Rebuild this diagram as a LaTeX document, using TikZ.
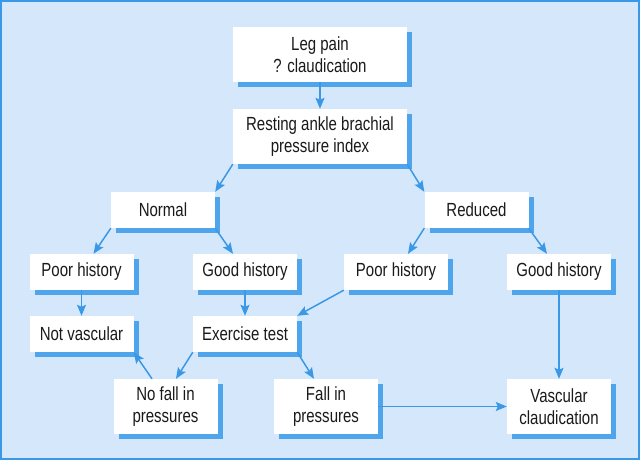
\documentclass[tikz,border=0pt]{standalone}
\usepackage{fontspec}
\setmainfont[FakeStretch=0.79]{Liberation Sans}
\usetikzlibrary{arrows.meta,shadows}
\definecolor{bgblue}{HTML}{D5E8FB}
\definecolor{lineblue}{HTML}{3A98E6}
\definecolor{shadowblue}{HTML}{4FA5EC}
\definecolor{txt}{HTML}{1A1A1A}
\begin{document}
\begin{tikzpicture}[x=1pt,y=1pt,
  box/.style={draw=none,fill=white,minimum width=104pt,minimum height=36pt,inner sep=0pt,
    align=center,text=txt,font=\fontsize{19}{21.5}\selectfont,
    general shadow={fill=shadowblue,shadow xshift=5pt,shadow yshift=-5pt}},
  tall/.style={box,minimum height=55pt},
  wide/.style={tall,minimum width=174pt},
  conn/.style={draw=lineblue,line width=1.5pt,-{Stealth[length=11pt,width=9pt,inset=2pt]}}]
\useasboundingbox (0,0) rectangle (640,460);
\fill[bgblue] (0,0) rectangle (640,460);
\draw[lineblue,line width=2pt] (1,1) rectangle (639,459);

\node[wide] (leg) at (320,405.5) {Leg pain\\? claudication};
\node[wide] (rest) at (320,323.5) {Resting ankle brachial\\pressure index};
\node[box] (normal) at (163,250) {Normal};
\node[box] (reduced) at (476.5,250) {Reduced};
\node[box] (poorL) at (81.5,188) {Poor history};
\node[box] (goodL) at (245,188) {Good history};
\node[box] (poorM) at (396,188) {Poor history};
\node[box] (goodR) at (559,188) {Good history};
\node[box] (notvasc) at (81.5,126) {Not vascular};
\node[box] (exer) at (245,126) {Exercise test};
\node[tall] (nofall) at (165.5,53.5) {No fall in\\pressures};
\node[tall] (fall) at (326,53.5) {Fall in\\pressures};
\node[tall] (vasc) at (559,53.5) {Vascular\\claudication};

\draw[conn] (leg.south) -- (rest.north);
\draw[conn] (rest.south west) -- (normal.north east);
\draw[conn] (rest.south east) -- (reduced.north west);
\draw[conn] (normal.south west) -- ([xshift=12pt]poorL.north);
\draw[conn] (normal.south east) -- ([xshift=-12pt]goodL.north);
\draw[conn] (reduced.south west) -- ([xshift=12pt]poorM.north);
\draw[conn] (reduced.south east) -- ([xshift=-12pt]goodR.north);
\draw[conn] (poorL.south) -- (notvasc.north);
\draw[conn] (goodL.south) -- (exer.north);
\draw[conn] (poorM.south west) -- (exer.north east);
\draw[conn] (exer.south west) -- ([xshift=10.5pt]nofall.north);
\draw[conn] (exer.south east) -- ([xshift=-12pt]fall.north);
\draw[conn] ([xshift=-13.5pt]nofall.north) -- (notvasc.south east);
\draw[conn] (goodR.south) -- (vasc.north);
\draw[conn] (fall.east) -- (vasc.west);
\end{tikzpicture}
\end{document}
